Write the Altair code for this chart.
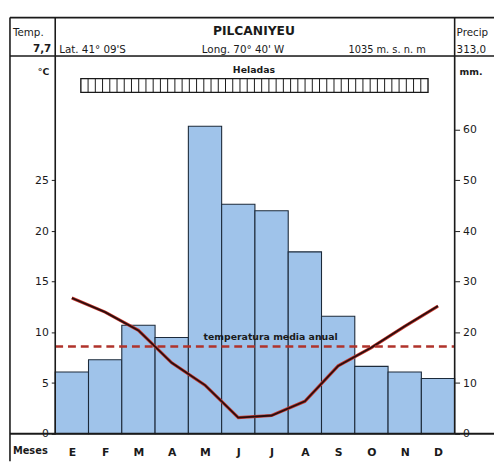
import altair as alt
import pandas as pd
import numpy as np

months = ["E", "F", "M", "A", "M", "J", "J", "A", "S", "O", "N", "D"]
precip = [12.2, 14.6, 21.4, 19.0, 60.7, 45.3, 44.0, 35.9, 23.2, 13.3, 12.2, 10.9]
temp = [13.4, 12.0, 10.2, 7.0, 4.8, 1.6, 1.8, 3.2, 6.7, 8.5, 10.6, 12.6]
mean_line = 8.6
temp_ticks = [0, 5, 10, 15, 20, 25]
precip_ticks = [0, 10, 20, 30, 40, 50, 60]

FONT = "DejaVu Sans"
INK = "#1a1a1a"

df = pd.DataFrame({
    "start": [i for i in range(12)],
    "end": [i + 1 for i in range(12)],
    "mid": [i + 0.5 for i in range(12)],
    "mes": months,
    "precip": precip,
    "temp": temp,
})

xs = alt.Scale(domain=[0, 12], nice=False, zero=False)
yt = alt.Scale(domain=[0, 37.28], nice=False)
yp = alt.Scale(domain=[0, 74.56], nice=False)

label_expr = "['E','F','M','A','M','J','J','A','S','O','N','D'][floor(datum.value)]"

bars = alt.Chart(df).mark_bar(
    color="#9fc3ea", stroke="#1c2a3a", strokeWidth=1.1, opacity=1
).encode(
    x=alt.X("start:Q", scale=xs,
            axis=alt.Axis(values=[i + 0.5 for i in range(12)], labelExpr=label_expr,
                          ticks=False, domain=False, grid=False, title=None,
                          labelPadding=13, labelFontSize=11, labelFontWeight="bold",
                          labelFont=FONT, labelColor=INK)),
    x2="end:Q",
    y=alt.Y("precip:Q", scale=yp,
            axis=alt.Axis(orient="right", values=precip_ticks, title=None, grid=False,
                          domain=False, tickSize=5, tickColor=INK, labelFontSize=11,
                          labelFont=FONT, labelColor=INK, labelPadding=3)),
    y2=alt.datum(0),
)

line_red = alt.Chart(df).mark_line(color="#c8372d", strokeWidth=3.2).encode(
    x=alt.X("mid:Q", scale=xs, axis=None),
    y=alt.Y("temp:Q", scale=yt,
            axis=alt.Axis(orient="left", values=temp_ticks, title=None, grid=False,
                          domain=False, tickSize=4, tickColor=INK, labelFontSize=11,
                          labelFont=FONT, labelColor=INK, labelPadding=3)),
)
line_dark = alt.Chart(df).mark_line(color="#2a0e0e", strokeWidth=1.8).encode(
    x=alt.X("mid:Q", scale=xs, axis=None),
    y=alt.Y("temp:Q", scale=yt, axis=None),
)

mean_df = pd.DataFrame({"y": [mean_line], "x": [0], "x2": [12]})
mean_rule = alt.Chart(mean_df).mark_rule(
    color="#b0332b", strokeWidth=2.6, strokeDash=[8, 5]
).encode(
    y=alt.Y("y:Q", scale=yt, axis=None),
    x=alt.X("x:Q", scale=xs, axis=None),
    x2="x2:Q",
)
mean_txt = alt.Chart(pd.DataFrame({"x": [6.47], "y": [9.5],
                                   "t": ["temperatura   media   anual"]})).mark_text(
    font=FONT, fontSize=9.5, color=INK, fontWeight="bold"
).encode(
    x=alt.X("x:Q", scale=xs, axis=None),
    y=alt.Y("y:Q", scale=yt, axis=None),
    text="t:N",
)

# Heladas box (frost all year) spanning x-scale positions
h0, h1 = 0.77, 11.2
hel_box = alt.Chart(pd.DataFrame({"a": [h0], "b": [h1]})).mark_rect(
    fill="white", stroke=INK, strokeWidth=1.4
).encode(
    x=alt.X("a:Q", scale=xs, axis=None), x2="b:Q",
    y=alt.value(23), y2=alt.value(37),
)
cells = np.linspace(h0, h1, 49)[1:-1]
hel_cells = alt.Chart(pd.DataFrame({"c": cells})).mark_rule(
    color=INK, strokeWidth=1
).encode(
    x=alt.X("c:Q", scale=xs, axis=None),
    y=alt.value(23), y2=alt.value(37),
)

one = pd.DataFrame({"k": [0]})
L, R, T, B = -46, 448, -39, 412


def hline(y, x1=L, x2=R, w=1.6):
    return alt.Chart(one).mark_rule(color=INK, strokeWidth=w).encode(
        x=alt.value(x1), x2=alt.value(x2), y=alt.value(y))


def vline(x, y1=T, y2=384, w=1.6):
    return alt.Chart(one).mark_rule(color=INK, strokeWidth=w).encode(
        x=alt.value(x), y=alt.value(y1), y2=alt.value(y2))


frame = [
    hline(T), hline(0), hline(384, w=1.8),
    vline(L, T, B), vline(0), vline(406),
]


def txt(s, x, y, align="left", size=11, weight="normal"):
    return alt.Chart(one).mark_text(
        text=s, align=align, baseline="middle", font=FONT, fontSize=size,
        fontWeight=weight, color=INK
    ).encode(x=alt.value(x), y=alt.value(y))


texts = [
    txt("Temp.", -43, -23, size=10.5),
    txt("7,7", -4, -7, align="right", size=10.5, weight="bold"),
    txt("PILCANIYEU", 202, -25, align="center", size=12.5, weight="bold"),
    txt("Lat. 41° 09'S", 4, -6, size=10.5),
    txt("Long. 70° 40' W", 149, -6, size=10.5),
    txt("1035 m. s. n. m", 298, -6, size=10),
    txt("Precip", 408, -23, size=10.5),
    txt("313,0", 408, -6, size=10.5),
    txt("°C", -6, 16, align="right", size=9.5, weight="bold"),
    txt("mm.", 411, 16, size=9.5, weight="bold"),
    txt("Heladas", 202, 14, align="center", size=9.5, weight="bold"),
    txt("Meses", -43, 402, size=10, weight="bold"),
]

chart = alt.layer(
    bars, line_red, line_dark, mean_rule, mean_txt, hel_box, hel_cells, *frame, *texts
).resolve_scale(y="independent").resolve_axis(x="independent", y="independent").properties(
    width=406, height=384,
    padding={"left": 48, "top": 45, "right": 40, "bottom": 27},
    autosize=alt.AutoSizeParams(type="none"),
).configure_view(stroke=None).configure(background="white")

chart.save("out.html", embed_options={"renderer": "svg", "actions": False})
